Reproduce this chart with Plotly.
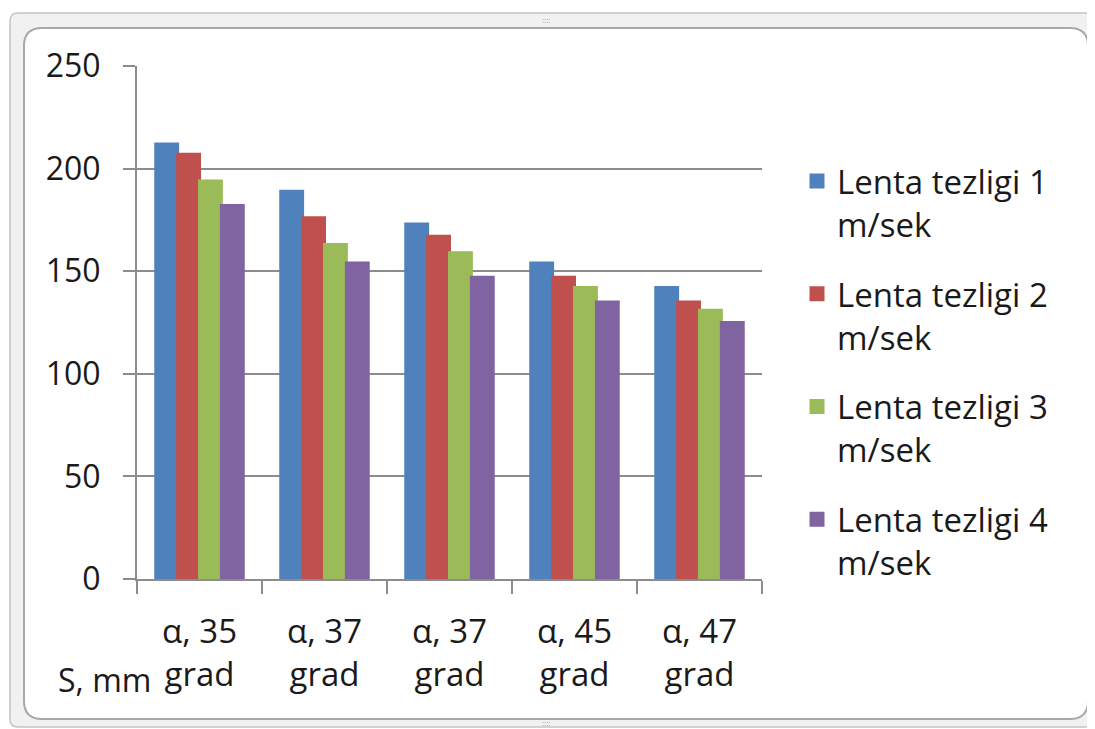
import plotly.graph_objects as go

categories = ["α, 35<br>grad", "α, 37<br>grad", "α, 37<br>grad", "α, 45<br>grad", "α, 47<br>grad"]
series_names = ["Lenta tezligi 1<br>m/sek", "Lenta tezligi 2<br>m/sek",
                "Lenta tezligi 3<br>m/sek", "Lenta tezligi 4<br>m/sek"]
s1 = [212, 189, 173, 154, 142]
s2 = [207, 176, 167, 147, 135]
s3 = [194, 163, 159, 142, 131]
s4 = [182, 154, 147, 135, 125]
colors = ["#4F81BD", "#C0504D", "#9BBB59", "#8064A2"]
y_ticks = [0, 50, 100, 150, 200, 250]

# the page puts the figure 8px in from the top-left corner
OFF = 8
W, H = 1095 - OFF, 729 - OFF
L, R, T, B = 137 - OFF, 762 - OFF, 66 - OFF, 579 - OFF  # plot area in figure pixels

def X(px):
    return (px - OFF - L) / (R - L)

def Y(py):
    return (B - (py - OFF)) / (B - T)

def rrect(x0, y0, x1, y1, r):
    pts = [
        f"M{X(x0 + r)},{Y(y0)}", f"L{X(x1 - r)},{Y(y0)}", f"Q{X(x1)},{Y(y0)} {X(x1)},{Y(y0 + r)}",
        f"L{X(x1)},{Y(y1 - r)}", f"Q{X(x1)},{Y(y1)} {X(x1 - r)},{Y(y1)}",
        f"L{X(x0 + r)},{Y(y1)}", f"Q{X(x0)},{Y(y1)} {X(x0)},{Y(y1 - r)}",
        f"L{X(x0)},{Y(y0 + r)}", f"Q{X(x0)},{Y(y0)} {X(x0 + r)},{Y(y0)}", "Z",
    ]
    return " ".join(pts)

xs = list(range(len(categories)))
fig = go.Figure()
for i, (name, vals, c) in enumerate(zip(series_names, [s1, s2, s3, s4], colors)):
    fig.add_trace(go.Bar(x=xs, y=vals, name=name, legendgroup=f"g{i}",
                         marker=dict(color=c, line=dict(color=c, width=3))))

font_family = "Open Sans, DejaVu Sans, sans-serif"
grid_col = "#8c8c8c"
txt_col = "#1a1a1a"

fig.update_layout(
    width=W, height=H,
    margin=dict(l=L, r=W - R, t=T, b=H - B, pad=0),
    paper_bgcolor="white",
    plot_bgcolor="rgba(0,0,0,0)",
    barmode="group",
    bargap=0.3,
    bargroupgap=0.0,
    font=dict(family=font_family, color=txt_col, size=30),
    showlegend=True,
    legend=dict(
        x=X(797), y=Y(153), xanchor="left", yanchor="top",
        xref="paper", yref="paper",
        font=dict(size=33, family=font_family, color=txt_col),
        tracegroupgap=24, bgcolor="rgba(0,0,0,0)",
        traceorder="grouped", valign="top",
    ),
    xaxis=dict(
        range=[-0.5, len(categories) - 0.5],
        tickmode="array", tickvals=xs, ticktext=categories,
        ticks="", showgrid=False, zeroline=False,
        showline=True, linecolor=grid_col, linewidth=2,
        tickfont=dict(size=33, family=font_family, color=txt_col),
        ticklabelstandoff=22,
        minor=dict(tickmode="array", tickvals=[i - 0.5 for i in range(len(categories) + 1)],
                   ticks="outside", ticklen=13, tickcolor=grid_col, tickwidth=2, showgrid=False),
        fixedrange=True,
    ),
    yaxis=dict(
        range=[0, 250], tickmode="array", tickvals=y_ticks,
        ticks="outside", ticklen=12, tickcolor=grid_col, tickwidth=2,
        showgrid=True, gridcolor=grid_col, gridwidth=2,
        zeroline=False, showline=True, linecolor=grid_col, linewidth=2,
        tickfont=dict(size=32, family=font_family, color=txt_col),
        ticklabelstandoff=16,
        fixedrange=True,
    ),
    shapes=[
        dict(type="path", xref="paper", yref="paper", path=rrect(10, 13, 1093, 727, 8),
             fillcolor="#f1f1f1", line=dict(color="#c4c4c4", width=1.5), layer="below"),
        dict(type="path", xref="paper", yref="paper", path=rrect(24, 28, 1088, 719, 18),
             fillcolor="white", line=dict(color="#a8a8a8", width=2), layer="below"),
    ],
    annotations=[
        dict(text="S, mm", xref="paper", yref="paper", x=X(104), y=Y(679),
             xanchor="center", yanchor="middle", showarrow=False,
             font=dict(size=32, family=font_family, color=txt_col)),
        dict(text="::::", xref="paper", yref="paper", x=X(546), y=Y(20),
             xanchor="center", yanchor="middle", showarrow=False,
             font=dict(size=8, color="#9a9a9a")),
        dict(text="::::", xref="paper", yref="paper", x=X(546), y=Y(722),
             xanchor="center", yanchor="middle", showarrow=False,
             font=dict(size=8, color="#9a9a9a")),
    ],
)

fig.write_html("out.html")
